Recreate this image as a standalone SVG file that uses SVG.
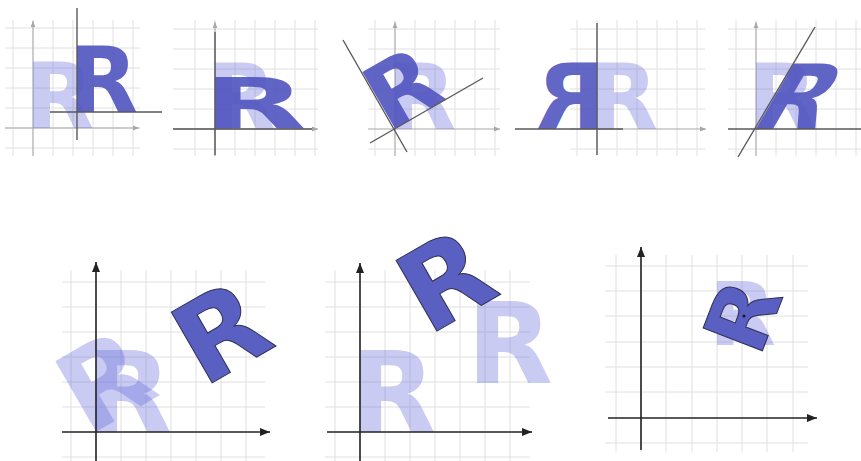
<svg xmlns="http://www.w3.org/2000/svg" width="861" height="461" viewBox="0 0 861 461">
<style>
.bg{fill:#ffffff}
.grid{fill:none;stroke:#e0e0e0;stroke-width:1}
.ax{fill:none;stroke:#a8a8a8;stroke-width:1}
.ln{fill:none;stroke:#5a5a5a;stroke-width:1.4}
.bax{fill:none;stroke:#222;stroke-width:1.6}
.r{font-family:"DejaVu Sans","Liberation Sans",Arial,sans-serif;font-weight:bold}
.t{font-size:90px}
.b{font-size:112px}
.s{font-size:87px}
.rl{fill:#6469d9;fill-opacity:0.35}
.rd{fill:#5257c0;fill-opacity:0.92}
.rdo{fill:#5a5fc2;stroke:#2e2e55;stroke-width:1}
</style>
<defs>
<marker id="ga" viewBox="0 0 10 10" refX="10" refY="5" markerWidth="6" markerHeight="6" markerUnits="userSpaceOnUse" orient="auto"><path d="M0,1 L10,5 L0,9 z" fill="#a8a8a8"/></marker>
<marker id="ba" viewBox="0 0 10 10" refX="10" refY="5" markerWidth="10" markerHeight="10" markerUnits="userSpaceOnUse" orient="auto"><path d="M0,1 L10,5 L0,9 z" fill="#222"/></marker>
</defs>
<rect class="bg" width="861" height="461"/>

<g id="panel-translate">
<path class="grid" d="M13,20V156M33,20V156M53,20V156M73,20V156M93,20V156M113,20V156M133,20V156M5,28H140M5,48H140M5,68H140M5,88H140M5,108H140M5,128H140M5,148H140"/>
<path class="ax" d="M33,156V21" marker-end="url(#ga)"/>
<path class="ax" d="M5,128H139" marker-end="url(#ga)"/>
<text class="r t rl" transform="translate(33,128)" x="-8.2">R</text>
<text class="r t rd" transform="translate(77,112)" x="-8.2">R</text>
<path class="ln" d="M77,8V140M50,112H162"/>
</g>

<g id="panel-scale">
<path class="grid" d="M195,20V156M215,20V156M235,20V156M255,20V156M275,20V156M295,20V156M315,20V156M173,29H318M173,49H318M173,69H318M173,89H318M173,109H318M173,149H318"/>
<path class="ax" d="M215,156V22" marker-end="url(#ga)"/>
<path class="ax" d="M173,129H318" marker-end="url(#ga)"/>
<text class="r t rl" transform="translate(215,129)" x="-8.2">R</text>
<text class="r t rd" transform="translate(215,129) scale(1.5,0.8)" x="-8.2">R</text>
<path class="ln" d="M215,32V155M173,129H312"/>
</g>

<g id="panel-rotate">
<path class="grid" d="M375,20V156M395,20V156M415,20V156M435,20V156M455,20V156M475,20V156M495,20V156M368,29H500M368,49H500M368,69H500M368,89H500M368,109H500M368,149H500"/>
<path class="ax" d="M395,156V22" marker-end="url(#ga)"/>
<path class="ax" d="M368,129H500" marker-end="url(#ga)"/>
<text class="r t rl" transform="translate(395,129)" x="-8.2">R</text>
<text class="r t rd" transform="translate(395,129) rotate(-30)" x="-8.2">R</text>
<path class="ln" d="M343,40L407,152M370,143L483,78"/>
</g>

<g id="panel-reflect">
<path class="grid" d="M577,20V156M597,20V156M617,20V156M637,20V156M657,20V156M677,20V156M697,20V156M570,29H705M570,49H705M570,69H705M570,89H705M570,109H705M570,149H705"/>
<path class="ax" d="M570,129H706" marker-end="url(#ga)"/>
<text class="r t rl" transform="translate(597,129)" x="-8.2">R</text>
<text class="r t rd" transform="translate(597,129) scale(-1,1)" x="-8.2">R</text>
<path class="ln" d="M597,23V155M515,129H623"/>
</g>

<g id="panel-shear">
<path class="grid" d="M736,20V156M756,20V156M776,20V156M796,20V156M816,20V156M836,20V156M856,20V156M728,29H861M728,49H861M728,69H861M728,89H861M728,109H861M728,149H861"/>
<path class="ax" d="M756,156V22" marker-end="url(#ga)"/>
<text class="r t rl" transform="translate(756,129)" x="-8.2">R</text>
<text class="r t rd" transform="translate(756,129) skewX(-30)" x="-8.2">R</text>
<path class="ln" d="M728,129H861M738,157L815,27"/>
</g>

<g id="panel-rotate-translate">
<path class="grid" d="M71,270V461M96,270V461M121,270V461M146,270V461M171,270V461M196,270V461M221,270V461M246,270V461M62,282H265M62,307H265M62,332H265M62,357H265M62,382H265M62,407H265M62,457H265"/>
<text class="r b rl" transform="translate(96,432)" x="-10.2">R</text>
<text class="r b rl" transform="translate(96,432) rotate(-30)" x="-10.2">R</text>
<path class="bax" d="M96,461V262" marker-end="url(#ba)"/>
<path class="bax" d="M62,432H270" marker-end="url(#ba)"/>
<text class="r b rdo" transform="translate(212,383) rotate(-30)" x="-10.2">R</text>
</g>

<g id="panel-translate-rotate">
<path class="grid" d="M335,270V461M360,270V461M385,270V461M410,270V461M435,270V461M460,270V461M485,270V461M510,270V461M325,282H530M325,307H530M325,332H530M325,357H530M325,382H530M325,407H530M325,457H530"/>
<text class="r b rl" transform="translate(360,432)" x="-10.2">R</text>
<text class="r b rl" transform="translate(477,383)" x="-10.2">R</text>
<path class="bax" d="M360,461V263" marker-end="url(#ba)"/>
<path class="bax" d="M327,432H532" marker-end="url(#ba)"/>
<text class="r b rdo" transform="translate(360,432) rotate(-30) translate(117,-49)" x="-10.2">R</text>
</g>

<g id="panel-rotate-center">
<path class="grid" d="M616,255V452M641,255V452M666,255V452M692,255V452M717,255V452M742,255V452M767,255V452M793,255V452M605,266H808M605,291H808M605,316H808M605,342H808M605,367H808M605,392H808M605,443H808"/>
<text class="r s rl" transform="translate(717,345)" x="-7.9">R</text>
<path class="bax" d="M641,450V247" marker-end="url(#ba)"/>
<path class="bax" d="M608,418H817" marker-end="url(#ba)"/>
<text class="r s rdo" transform="rotate(-69,744,315) translate(717,345)" x="-7.9">R</text>
<circle cx="744" cy="316" r="1.6" fill="#1a1a40"/>
</g>
</svg>
